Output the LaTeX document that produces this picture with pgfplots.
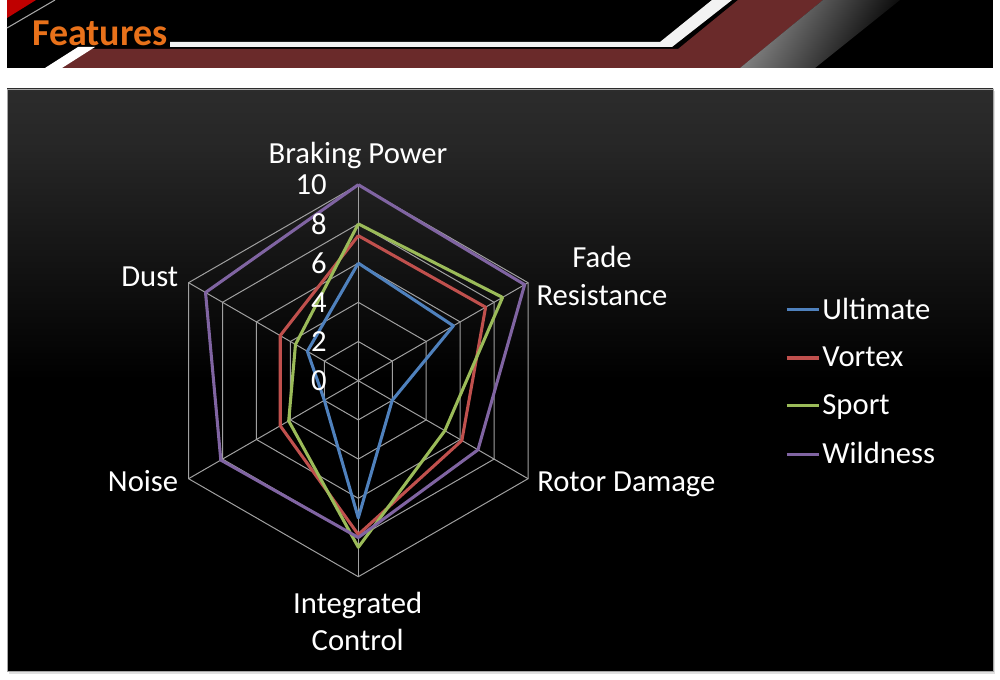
\documentclass[border=0pt]{standalone}
\usepackage{fontspec}
\setmainfont{Carlito}
\usepackage{pgfplots}
\pgfplotsset{compat=1.18}
\definecolor{cblue}{HTML}{4F81BD}
\definecolor{cred}{HTML}{C0504D}
\definecolor{cgreen}{HTML}{9BBB59}
\definecolor{cpurple}{HTML}{8064A2}
\definecolor{gridgray}{HTML}{A0A0A0}
\definecolor{hdrred}{HTML}{6A2A2A}
\definecolor{ftorange}{HTML}{E8711A}
\pgfdeclareverticalshading{chartbg}{100bp}{color(0bp)=(black); color(50bp)=(black); color(70bp)=(black!85!white); color(100bp)=(black!72!white)}
\begin{document}
\begin{tikzpicture}
\begin{scope}[x=0.75pt,y=-0.75pt]
\path[use as bounding box,fill=white] (0,0) rectangle (1000,680);
% header band
\fill[black] (7,0) rectangle (993,68);
\fill[red!75!black] (7,0) -- (36,0) -- (7,18) -- cycle;
\draw[gray!70,line width=0.8pt] (7,28) -- (55,0);
\fill[hdrred] (62,68) -- (86,49) -- (678,49) -- (738,0) -- (823,0) -- (740,68) -- cycle;
\shade[left color=gray!90,right color=black,shading angle=60] (740,68) -- (823,0) -- (900,0) -- (815,68) -- cycle;
\fill[white!90!gray] (170,42) -- (660,42) -- (712,0) -- (732,0) -- (672,47) -- (170,47) -- cycle;
\fill[white] (45,68) -- (78,47) -- (95,47) -- (62,68) -- cycle;
\node[anchor=base west,inner sep=0pt,text=ftorange,font=\bfseries\fontsize{28.5}{30}\selectfont] at (32,46) {Features};
% chart background
\fill[gray!25] (9,91) rectangle (995,674);
\shade[shading=chartbg,draw=gray!70,line width=0.6pt] (7,89) rectangle (993,671);
\coordinate (C) at (358.3,380.7);
\end{scope}
\begin{axis}[
  at={(C)}, anchor=origin,
  x=14.7pt, y=14.7pt,
  xmin=-10, xmax=10, ymin=-10, ymax=10,
  hide axis, clip=false,
  legend style={at={(axis cs:21.55,4.45)}, anchor=north west, draw=none, fill=none,
    text=white, font=\fontsize{23}{27}\selectfont, row sep=17pt,
    nodes={inner sep=1.2pt}},
  legend cell align=left,
  legend image code/.code={\draw[#1,line width=2.4pt] (0pt,0pt) -- (24.5pt,0pt);},
]
% hexagonal grid
\foreach \r in {2,4,6,8,10}{
  \addplot[gridgray, line width=0.75pt, data cs=polar, forget plot]
    coordinates {(90,\r) (30,\r) (-30,\r) (-90,\r) (-150,\r) (150,\r) (90,\r)};
}
\foreach \a in {90,30,-30,-90,-150,150}{
  \addplot[gridgray, line width=0.75pt, data cs=polar, forget plot]
    coordinates {(\a,0) (\a,10)};
}
% series: Braking, Fade, Rotor, Integrated, Noise, Dust
\addplot[cblue, line width=2.3pt, line join=round, data cs=polar]
  coordinates {(90,6) (30,5.6) (-30,2) (-90,7) (-150,2) (150,3) (90,6)};
\addlegendentry{Ultimate}
\addplot[cred, line width=2.3pt, line join=round, data cs=polar]
  coordinates {(90,7.4) (30,7.5) (-30,6.1) (-90,7.85) (-150,4.6) (150,4.6) (90,7.4)};
\addlegendentry{Vortex}
\addplot[cgreen, line width=2.3pt, line join=round, data cs=polar]
  coordinates {(90,8) (30,8.5) (-30,5.1) (-90,8.5) (-150,4.1) (150,3.7) (90,8)};
\addlegendentry{Sport}
\addplot[cpurple, line width=2.3pt, line join=round, data cs=polar]
  coordinates {(90,10) (30,9.8) (-30,7.05) (-90,8) (-150,8.1) (150,9) (90,10)};
\addlegendentry{Wildness}
% tick labels
\foreach \v in {0,2,4,6,8,10}{
  \edef\tmp{\noexpand\node[anchor=east,text=white,inner sep=0pt,font=\noexpand\fontsize{23}{27}\noexpand\selectfont] at (axis cs:-1.6,\v) {\v};}
  \tmp
}
\end{axis}
\begin{scope}[x=0.75pt,y=-0.75pt,every node/.style={text=white,inner sep=0pt,font=\fontsize{23}{27}\selectfont}]
\node[anchor=base] at (358,164) {Braking Power};
\node[anchor=base] at (602,268) {Fade};
\node[anchor=base] at (602,306) {Resistance};
\node[anchor=base west] at (537,492) {Rotor Damage};
\node[anchor=base] at (357.7,614) {Integrated};
\node[anchor=base] at (357.7,651) {Control};
\node[anchor=base east] at (178.5,492) {Noise};
\node[anchor=base east] at (178.5,287) {Dust};
\end{scope}
\end{tikzpicture}
\end{document}
